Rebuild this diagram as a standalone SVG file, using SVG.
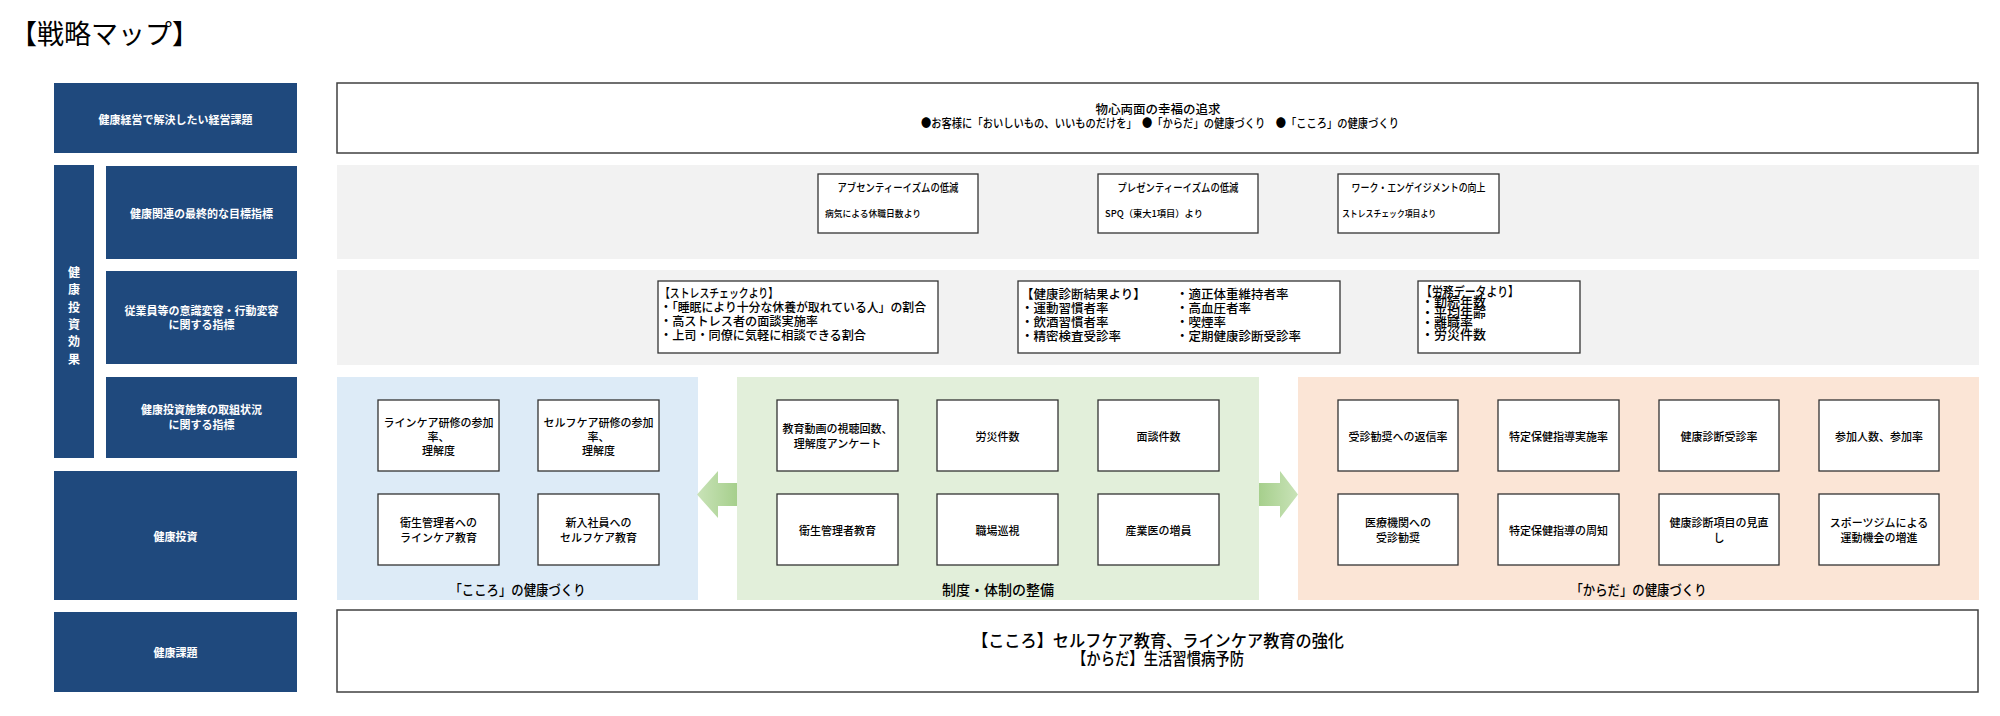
<svg xmlns="http://www.w3.org/2000/svg" width="2000" height="716" viewBox="0 0 2000 716">
<style>
text{font-family:"Noto Sans CJK JP","Noto Sans",sans-serif;fill:#000;font-weight:500}
.nav{fill:#1F497D}
.lbl{fill:#fff;font-weight:bold;font-size:11px;text-anchor:middle;dominant-baseline:central}
.band{fill:#F2F2F2}
.big{fill:#fff;stroke:#404040;stroke-width:1.5}
.box{fill:#fff;stroke:#333;stroke-width:1.3}
.t11{font-size:11px;text-anchor:middle;dominant-baseline:central}
.t12{font-size:12.5px;dominant-baseline:central}
.t13{font-size:13px;dominant-baseline:central}
.sub{font-size:9.5px;dominant-baseline:central}
.pl{font-size:14px;text-anchor:middle;dominant-baseline:central}
.bt{font-size:17px;text-anchor:middle;dominant-baseline:central}
</style>
<defs>
<linearGradient id="gl" x1="0" y1="0" x2="1" y2="0"><stop offset="0" stop-color="#C9E3B8"/><stop offset="1" stop-color="#A6CF8C"/></linearGradient>
<linearGradient id="gr" x1="0" y1="0" x2="1" y2="0"><stop offset="0" stop-color="#A6CF8C"/><stop offset="1" stop-color="#C9E3B8"/></linearGradient>
</defs>
<rect width="2000" height="716" fill="#fff"/>
<text x="10" y="44" style="font-size:27px;font-weight:400">【戦略マップ】</text>

<!-- left column labels -->
<g id="L1"><rect class="nav" x="54" y="83" width="243" height="70"/><text class="lbl" x="175.5" y="119">健康経営で解決したい経営課題</text></g>
<g id="L-effect"><rect class="nav" x="54" y="165" width="40" height="293"/>
<text class="lbl" style="font-size:12px" x="74" y="271">健<tspan x="74" dy="17.3">康</tspan><tspan x="74" dy="17.3">投</tspan><tspan x="74" dy="17.3">資</tspan><tspan x="74" dy="17.3">効</tspan><tspan x="74" dy="17.3">果</tspan></text></g>
<g id="L2"><rect class="nav" x="106" y="166" width="191" height="93"/><text class="lbl" x="201.5" y="213">健康関連の最終的な目標指標</text></g>
<g id="L3"><rect class="nav" x="106" y="271" width="191" height="93"/><text class="lbl" x="201.5" y="310">従業員等の意識変容・行動変容</text><text class="lbl" x="201.5" y="324">に関する指標</text></g>
<g id="L4"><rect class="nav" x="106" y="377" width="191" height="81"/><text class="lbl" x="201.5" y="409">健康投資施策の取組状況</text><text class="lbl" x="201.5" y="424">に関する指標</text></g>
<g id="L5"><rect class="nav" x="54" y="471" width="243" height="129"/><text class="lbl" x="175.5" y="536">健康投資</text></g>
<g id="L6"><rect class="nav" x="54" y="612" width="243" height="80"/><text class="lbl" x="175.5" y="652">健康課題</text></g>

<!-- row 1 -->
<g id="issue"><rect class="big" x="337" y="83" width="1641" height="70"/>
<text class="t11" style="font-size:12.5px" x="1158" y="108">物心両面の幸福の追求</text>
<text class="t11" style="font-size:12px" x="1160" y="122" textLength="478" lengthAdjust="spacingAndGlyphs">●お客様に「おいしいもの、いいものだけを」　●「からだ」の健康づくり　●「こころ」の健康づくり</text></g>

<!-- row 2 -->
<rect class="band" x="337" y="165" width="1642" height="94"/>
<g id="absent"><rect class="box" x="818" y="174" width="160" height="59"/>
<text class="t11" x="898" y="187" textLength="121" lengthAdjust="spacingAndGlyphs">アブセンティーイズムの低減</text>
<text class="sub" x="825" y="213" textLength="96" lengthAdjust="spacingAndGlyphs">病気による休職日数より</text></g>
<g id="present"><rect class="box" x="1098" y="174" width="160" height="59"/>
<text class="t11" x="1178" y="187" textLength="121" lengthAdjust="spacingAndGlyphs">プレゼンティーイズムの低減</text>
<text class="sub" x="1105" y="213" textLength="98" lengthAdjust="spacingAndGlyphs">SPQ（東大1項目）より</text></g>
<g id="engage"><rect class="box" x="1338" y="174" width="161" height="59"/>
<text class="t11" x="1418.5" y="187" textLength="134" lengthAdjust="spacingAndGlyphs">ワーク・エンゲイジメントの向上</text>
<text class="sub" x="1342" y="213" textLength="94" lengthAdjust="spacingAndGlyphs">ストレスチェック項目より</text></g>

<!-- row 3 -->
<rect class="band" x="337" y="270" width="1642" height="95"/>
<g id="stress"><rect class="box" x="658" y="281" width="280" height="72"/>
<text class="t12" x="660" y="292" textLength="118" lengthAdjust="spacingAndGlyphs">【ストレスチェックより】</text>
<text class="t12" x="660" y="306" textLength="266" lengthAdjust="spacingAndGlyphs">・「睡眠により十分な休養が取れている人」の割合</text>
<text class="t12" x="660" y="320" textLength="158" lengthAdjust="spacingAndGlyphs">・高ストレス者の面談実施率</text>
<text class="t12" x="660" y="334" textLength="206" lengthAdjust="spacingAndGlyphs">・上司・同僚に気軽に相談できる割合</text></g>
<g id="checkup"><rect class="box" x="1018" y="281" width="322" height="72"/>
<text class="t12" x="1021" y="293">【健康診断結果より】</text>
<text class="t12" x="1021" y="307">・運動習慣者率</text>
<text class="t12" x="1021" y="321">・飲酒習慣者率</text>
<text class="t12" x="1021" y="335">・精密検査受診率</text>
<text class="t12" x="1176" y="293">・適正体重維持者率</text>
<text class="t12" x="1176" y="307">・高血圧者率</text>
<text class="t12" x="1176" y="321">・喫煙率</text>
<text class="t12" x="1176" y="335">・定期健康診断受診率</text></g>
<g id="labor"><rect class="box" x="1418" y="281" width="162" height="72"/>
<text class="t13" x="1421" y="290" textLength="98" lengthAdjust="spacingAndGlyphs">【労務データより】</text>
<text class="t13" x="1421" y="300.5">・勤続年数</text>
<text class="t13" x="1421" y="311">・平均年齢</text>
<text class="t13" x="1421" y="321.5">・離職率</text>
<text class="t13" x="1421" y="333">・労災件数</text></g>

<!-- panels -->
<rect fill="#DDEBF7" x="337" y="377" width="361" height="223"/>
<rect fill="#E2EFDA" x="737" y="377" width="522" height="223"/>
<rect fill="#FBE5D6" x="1298" y="377" width="681" height="223"/>

<g id="b1"><rect class="box" x="378" y="400" width="121" height="71"/><text class="t11" x="438.5" y="422">ラインケア研修の参加</text><text class="t11" x="438.5" y="436">率、</text><text class="t11" x="438.5" y="450">理解度</text></g>
<g id="b2"><rect class="box" x="538" y="400" width="121" height="71"/><text class="t11" x="598.5" y="422">セルフケア研修の参加</text><text class="t11" x="598.5" y="436">率、</text><text class="t11" x="598.5" y="450">理解度</text></g>
<g id="b3"><rect class="box" x="378" y="494" width="121" height="71"/><text class="t11" x="438.5" y="522">衛生管理者への</text><text class="t11" x="438.5" y="537">ラインケア教育</text></g>
<g id="b4"><rect class="box" x="538" y="494" width="121" height="71"/><text class="t11" x="598.5" y="522">新入社員への</text><text class="t11" x="598.5" y="537">セルフケア教育</text></g>
<text class="pl" x="517.5" y="589" textLength="136" lengthAdjust="spacingAndGlyphs">「こころ」の健康づくり</text>

<g id="g1"><rect class="box" x="777" y="400" width="121" height="71"/><text class="t11" x="837.5" y="428">教育動画の視聴回数、</text><text class="t11" x="837.5" y="443">理解度アンケート</text></g>
<g id="g2"><rect class="box" x="937" y="400" width="121" height="71"/><text class="t11" x="997.5" y="435.5">労災件数</text></g>
<g id="g3"><rect class="box" x="1098" y="400" width="121" height="71"/><text class="t11" x="1158.5" y="435.5">面談件数</text></g>
<g id="g4"><rect class="box" x="777" y="494" width="121" height="71"/><text class="t11" x="837.5" y="529.5">衛生管理者教育</text></g>
<g id="g5"><rect class="box" x="937" y="494" width="121" height="71"/><text class="t11" x="997.5" y="529.5">職場巡視</text></g>
<g id="g6"><rect class="box" x="1098" y="494" width="121" height="71"/><text class="t11" x="1158.5" y="529.5">産業医の増員</text></g>
<text class="pl" x="998" y="589">制度・体制の整備</text>

<g id="p1"><rect class="box" x="1338" y="400" width="120" height="71"/><text class="t11" x="1398" y="435.5">受診勧奨への返信率</text></g>
<g id="p2"><rect class="box" x="1498" y="400" width="121" height="71"/><text class="t11" x="1558.5" y="435.5">特定保健指導実施率</text></g>
<g id="p3"><rect class="box" x="1659" y="400" width="120" height="71"/><text class="t11" x="1719" y="435.5">健康診断受診率</text></g>
<g id="p4"><rect class="box" x="1819" y="400" width="120" height="71"/><text class="t11" x="1879" y="435.5">参加人数、参加率</text></g>
<g id="p5"><rect class="box" x="1338" y="494" width="120" height="71"/><text class="t11" x="1398" y="522">医療機関への</text><text class="t11" x="1398" y="537">受診勧奨</text></g>
<g id="p6"><rect class="box" x="1498" y="494" width="121" height="71"/><text class="t11" x="1558.5" y="529.5">特定保健指導の周知</text></g>
<g id="p7"><rect class="box" x="1659" y="494" width="120" height="71"/><text class="t11" x="1719" y="522">健康診断項目の見直</text><text class="t11" x="1719" y="537">し</text></g>
<g id="p8"><rect class="box" x="1819" y="494" width="120" height="71"/><text class="t11" x="1879" y="522">スポーツジムによる</text><text class="t11" x="1879" y="537">運動機会の増進</text></g>
<text class="pl" x="1638.5" y="589" textLength="136" lengthAdjust="spacingAndGlyphs">「からだ」の健康づくり</text>

<!-- connectors -->
<g id="connectors">
<path d="M737,483 L718,483 L718,471 L697,494.5 L718,518 L718,506 L737,506 Z" fill="url(#gl)"/>
<path d="M1259,483 L1280,483 L1280,471 L1298,494.5 L1280,518 L1280,506 L1259,506 Z" fill="url(#gr)"/>
</g>

<!-- bottom -->
<g id="challenge"><rect class="big" x="337" y="610" width="1641" height="82"/>
<text class="bt" x="1158" y="639" textLength="372" lengthAdjust="spacingAndGlyphs">【こころ】セルフケア教育、ラインケア教育の強化</text>
<text class="bt" x="1158" y="657" textLength="172" lengthAdjust="spacingAndGlyphs">【からだ】生活習慣病予防</text></g>
</svg>
